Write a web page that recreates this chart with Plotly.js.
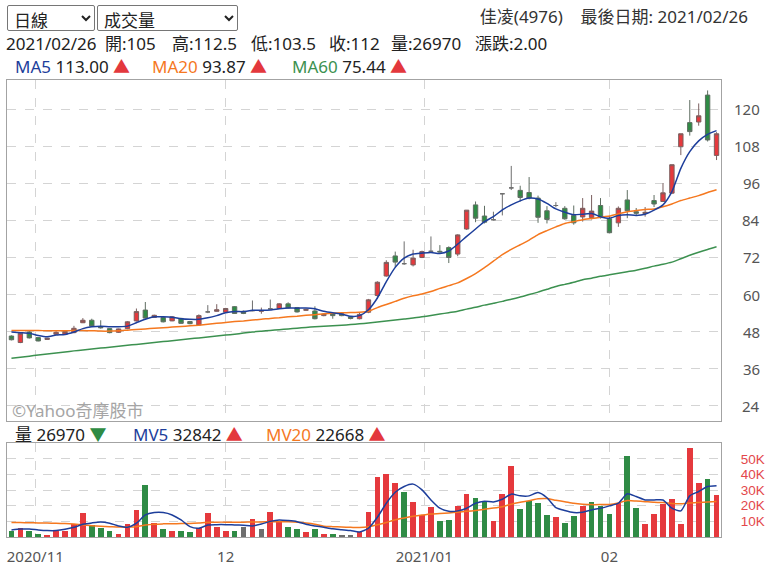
<!DOCTYPE html>
<html><head><meta charset="utf-8">
<script src="https://cdn.plot.ly/plotly-3.0.1.min.js"></script>
<style>
html,body{margin:0;padding:0;background:#fff;width:770px;height:572px;overflow:hidden;
  font-family:"Noto Sans","Noto Sans CJK TC",sans-serif;color:#222;}
#chart{position:absolute;left:0;top:0;width:770px;height:572px;}
.t{position:absolute;white-space:nowrap;line-height:22px;height:22px;z-index:5;}
select{position:absolute;z-index:6;font-family:"Noto Sans CJK TC",sans-serif;font-size:17px;color:#222;
  background:#fff;border:1px solid #767676;border-radius:2px;padding:0 2px;}
.up{color:#e3383d;} .dn{color:#2f8b43;}
</style></head><body>
<div id="chart"></div>
<select style="left:7px;top:5px;width:88px;height:26px"><option>日線</option></select>
<select style="left:97px;top:5px;width:141px;height:26px"><option>成交量</option></select>
<div id="hdr"></div>
<script>
// ---------------- data ----------------
const stockName = '佳凌(4976)';
const dates = [
 '2020/10/28','2020/10/29','2020/10/30',
 '2020/11/02','2020/11/03','2020/11/04','2020/11/05','2020/11/06','2020/11/09','2020/11/10','2020/11/11','2020/11/12','2020/11/13',
 '2020/11/16','2020/11/17','2020/11/18','2020/11/19','2020/11/20','2020/11/23','2020/11/24','2020/11/25','2020/11/26','2020/11/27','2020/11/30',
 '2020/12/01','2020/12/02','2020/12/03','2020/12/04','2020/12/07','2020/12/08','2020/12/09','2020/12/10','2020/12/11',
 '2020/12/14','2020/12/15','2020/12/16','2020/12/17','2020/12/18','2020/12/21','2020/12/22','2020/12/23','2020/12/24','2020/12/25',
 '2020/12/28','2020/12/29','2020/12/30','2020/12/31',
 '2021/01/04','2021/01/05','2021/01/06','2021/01/07','2021/01/08','2021/01/11','2021/01/12','2021/01/13','2021/01/14','2021/01/15',
 '2021/01/18','2021/01/19','2021/01/20','2021/01/21','2021/01/22','2021/01/25','2021/01/26','2021/01/27','2021/01/28','2021/01/29',
 '2021/02/01','2021/02/02','2021/02/03','2021/02/04','2021/02/05','2021/02/17','2021/02/18','2021/02/19',
 '2021/02/22','2021/02/23','2021/02/24','2021/02/25','2021/02/26'];
const open = [46.6,44.5,47.9,46.1,45.5,47.2,47.2,47.7,50.9,51.7, 49.6,49.0,47.8,49.0,51.5,55.0,52.6,52.6,51.5,52.3,
 51.3,50.2,54.4,54.6,54.3,56.1,54.6,54.8,54.6,55.4, 55.5,57.0,55.8,54.9,54.7,53.2,53.8,53.8,52.8,52.2,
 54.3,59.7,66.0,72.5,70.0,69.6,72.0,74.0,74.0,75.2, 73.1,81.2,89.0,85.4,84.2,92.6,94.5,93.7,93.0,91.2,
 87.1,88.8,87.9,85.6,85.1,84.9,88.8,84.5,83.2,90.6, 86.8,86.2,90.4,90.1,92.8,107.8,115.6,115.8,124.5,105];
const high = [46.8,47.8,48.3,46.2,46.0,48.2,48.2,49.9,52.4,52.2, 51.7,49.1,49.0,51.4,55.5,57.6,53.5,52.8,53.0,52.5,
 51.5,53.6,56.6,56.9,55.7,56.3,54.8,58.1,55.8,58.4, 57.2,57.5,56.0,55.4,56.2,53.9,53.9,54.0,53.0,54.2,
 58.6,64.3,71.1,73.9,77.2,74.5,74.2,78.8,76.0,75.6, 79.5,87.3,90.1,88.7,86.8,92.6,101.6,95.2,98.0,92.0,
 88.6,89.9,88.6,88.8,91.2,92.2,91.2,85.5,88.5,93.8, 88.0,88.3,92.2,96.0,102.0,112.0,122.9,121.8,126.0,112.5];
const low = [45.2,44.3,45.8,44.9,45.4,47.0,47.0,47.5,50.8,49.6, 49.0,47.5,47.6,48.8,51.3,52.2,52.5,51.0,51.4,50.6,
 50.4,50.0,54.0,54.5,54.2,53.8,53.7,54.6,53.8,55.2, 55.3,55.5,54.2,54.7,52.0,53.0,52.2,53.0,52.0,52.0,
 54.0,58.6,65.8,68.8,69.6,69.1,71.8,73.8,73.6,70.2, 72.4,80.9,83.4,83.0,84.0,85.6,93.8,90.1,90.8,83.2,
 83.0,88.2,84.2,82.6,83.6,84.3,84.6,79.8,81.9,84.7, 85.4,85.2,88.3,90.0,92.5,105.1,111.4,114.6,109.5,103.5];
const close = [45.4,47.5,46.0,45.0,45.9,47.8,48.1,49.1,51.7,49.8, 49.3,47.7,48.9,51.2,54.5,52.4,53.3,51.2,52.8,50.7,
 50.6,53.2,54.4,55.1,55.5,53.9,53.9,54.8,54.8,55.4, 57.0,55.7,54.4,55.2,52.2,53.7,53.2,53.2,52.3,53.6,
 58.3,64.0,70.4,70.5,70.0,71.8,73.9,74.0,73.8,72.0, 79.3,87.3,84.7,83.4,84.2,92.6,94.5,91.4,91.2,85.0,
 84.3,88.8,84.5,83.2,87.9,87.0,84.9,80.0,87.9,87.1, 86.3,86.6,89.3,92.9,102.0,112.0,112.7,117.8,110.0,112];
// day direction vs previous close: u = up, d = down, n = unchanged
const dayDir = ['d','u','d','d','u','u','u','u','u','d', 'd','d','u','u','u','d','u','d','u','d',
 'd','u','u','u','u','d','n','u','n','u', 'u','d','d','u','d','u','d','n','n','u',
 'u','u','u','u','d','u','u','u','d','d', 'u','u','d','d','u','u','u','d','d','d',
 'd','u','d','d','u','d','d','d','u','d', 'd','u','u','u','u','u','u','u','d','u'];
const volume = [4100,5800,4100,2100,1500,4100,4100,8500,15600,7500, 5600,4100,2100,8500,17300,33100,9200,4900,4100,4100,
 3000,5600,15600,6600,4100,4100,6400,11800,4900,16200, 9800,6400,4900,3000,4900,2100,2100,1300,1300,3400,
 16200,38200,40200,34800,28600,22400,14100,19000,10000,10900, 19900,27600,25000,23300,10000,27600,45500,17900,23300,21600,
 14300,12600,9200,13500,20100,22400,19900,14500,21600,51500, 18800,8300,14500,20900,24100,8300,56800,34800,37400,26970];
const ma5 = [47.9,47.7,47.5,46.8,46.4,46.9,47.1,47.9,49.0,49.6, 49.8,49.6,49.6,49.8,50.9,52.0,52.8,52.8,52.7,52.2,
 52.0,52.0,52.5,53.2,54.1,54.5,54.5,54.9,54.9,55.0, 55.4,55.7,55.6,55.7,55.4,54.6,54.1,53.7,53.0,53.2,
 55.1,58.9,64.2,68.8,71.8,73.1,73.4,73.6,73.3,74.1, 76.3,78.8,81.2,83.6,85.2,87.4,89.0,90.3,91.2,90.9,
 89.5,87.7,86.6,85.8,86.0,86.2,85.2,84.7,85.6,85.8, 85.6,86.0,87.3,89.0,93.3,100.8,106.2,109.7,111.8,113.00];
const ma20 = [48.4,48.4,48.4,48.4,48.3,48.3,48.3,48.4,48.4,48.3, 48.2,48.2,48.3,48.5,48.7,48.9,49.1,49.3,49.5,49.7,
 49.9,50.1,50.4,50.7,51.0,51.3,51.5,51.8,52.0,52.3, 52.5,52.8,53.0,53.3,53.5,53.8,54.0,54.1,54.2,54.3,
 54.6,55.8,56.8,57.8,58.8,59.6,60.2,61.0,62.0,62.9, 63.8,65.2,66.8,68.7,70.8,72.9,74.6,76.1,77.6,79.4,
 80.7,81.9,83.0,83.6,84.2,84.6,85.0,85.4,86.1,86.8, 87.2,87.5,87.7,88.4,89.3,90.4,91.2,92.0,93.0,93.87];
const ma60 = [39.4,39.75,40.1,40.45,40.8,41.1,41.45,41.8,42.1,42.4, 42.7,43.0,43.3,43.6,43.9,44.2,44.5,44.8,45.1,45.4,
 45.7,46.0,46.3,46.6,46.9,47.2,47.55,47.9,48.15,48.4, 48.65,48.9,49.15,49.4,49.6,49.75,49.95,50.1,50.3,50.55,
 50.8,51.1,51.45,51.8,52.1,52.4,52.8,53.25,53.7,54.15, 54.6,55.3,55.9,56.6,57.2,57.8,58.5,59.2,60.0,60.8,
 61.7,62.6,63.3,64.0,64.8,65.3,65.9,66.4,66.9,67.4, 67.9,68.5,69.2,69.8,70.5,71.6,72.7,73.7,74.6,75.44];
const mv5 = [4500,5100,5100,4500,4100,4100,4900,6200,8100,9000, 9600,8800,7100,6200,8800,14100,15600,15600,14100,10900,
 6600,5600,7700,7900,7900,7700,7500,7100,8300,10000, 10900,10500,9800,8100,7100,6200,5300,4700,4100,3200,
 5600,12600,21600,28600,32300,33800,30100,23700,18400,16500, 16700,18400,21600,22900,22400,24100,27400,26300,26300,28400,
 25100,18800,16900,15600,15800,17300,18400,19900,21600,27600, 25900,23700,23700,23700,18400,16700,26300,29100,32300,32842];
const mv20 = [9200,9200,9100,9000,8900,8800,8600,8300,7800,7200, 6800,6600,6400,6400,6600,7600,8200,8400,8500,8600,
 8700,9000,9400,9500,9500,9400,9500,9600,9600,9800, 9800,9700,9500,9000,8200,6900,6600,6400,6200,6000,
 6500,7800,9300,11000,12200,13200,14000,14700,15000,15400, 15900,16400,17000,17800,18500,19400,21000,22200,23200,24400,
 24600,23500,22600,21600,21000,20700,20700,20800,21800,23300, 23000,22600,22200,22000,21400,21200,21800,22100,22400,22668];
const monthStarts = ['2020/11/01','2020/12/01','2021/01/01','2021/02/01'];
const monthLabels = ['2020/11','12','2021/01','02'];
const priceTicks = [24,36,48,60,72,84,96,108,120];
const volTicks = [10000,20000,30000,40000,50000];
const volTickText = ['10K','20K','30K','40K','50K'];

// ---------------- styles ----------------
const RED = '#e5393d', GREEN = '#2f8b45', GRAY = '#6e6e6e';
const C_MA5 = '#1d3e9b', C_MA20 = '#f5781f', C_MA60 = '#3c9150';

// ---------------- helpers ----------------
const N = dates.length;
const idx = dates.map((d, i) => i);
const toT = s => { const [y, m, d] = s.split('/').map(Number); return Date.UTC(y, m - 1, d); };
const dT = dates.map(toT);
// position of a calendar date on the trading-day index axis
function posOf(s) {
  const t = toT(s);
  for (let i = 0; i < N; i++) {
    if (dT[i] === t) return i;
    if (dT[i] > t) return i === 0 ? 0 : (i - 1) + (t - dT[i - 1]) / (dT[i] - dT[i - 1]);
  }
  return N - 1;
}
const monthPos = monthStarts.map(posOf);
const pick = (arr, ids) => ids.map(i => arr[i]);
const ndIdx = idx.filter(i => open[i] !== close[i]);
const djIdx = idx.filter(i => open[i] === close[i]);

// ---------------- header texts ----------------
const L = N - 1;
const fmt = (v, d) => Number(v).toFixed(d);
const arrow = (a) => a[L] >= a[L - 1] ? '<span class="up">▲</span>' : '<span class="dn">▼</span>';
const hdr = document.getElementById('hdr');
function put(left, cy, html, size, extra) {
  const el = document.createElement('div');
  el.className = 't';
  el.style.left = left + 'px';
  el.style.top = (cy - 11) + 'px';
  el.style.fontSize = size + 'px';
  if (extra) Object.assign(el.style, extra);
  el.innerHTML = html;
  hdr.appendChild(el);
  return el;
}
put(0, 17, stockName + '&nbsp;&nbsp;&nbsp; 最後日期: ' + dates[L], 17, {left: 'auto', right: '22px', color: '#333'});
const chg = close[L] - close[L - 1];
const line2 = [[6, dates[L]], [105, '開:' + open[L]], [172, '高:' + high[L]], [251, '低:' + low[L]],
  [329, '收:' + close[L]], [391, '量:' + volume[L]], [475, '漲跌:' + fmt(chg, 2)]];
line2.forEach(([x, s]) => put(x, 44, s, 17));
const maItems = [[15, 'MA5', C_MA5, ma5], [152, 'MA20', C_MA20, ma20], [292, 'MA60', C_MA60, ma60]];
maItems.forEach(([x, lab, col, arr]) =>
  put(x, 67, '<span style="color:' + col + '">' + lab + '</span> ' + fmt(arr[L], 2) + ' ' + arrow(arr), 17));
const volItems = [[15, '量', '#222', volume], [133, 'MV5', C_MA5, mv5], [266, 'MV20', C_MA20, mv20]];
volItems.forEach(([x, lab, col, arr]) =>
  put(x, 435, '<span style="color:' + col + '">' + lab + '</span> ' + Math.round(arr[L]) + ' ' + arrow(arr), 17));
put(12, 411, '©Yahoo奇摩股市', 17, {color: '#a5a5a5'});

// ---------------- plot ----------------
const candleBase = {type: 'candlestick', xaxis: 'x2', yaxis: 'y2', whiskerwidth: 0, hoverinfo: 'skip'};
const traces = [
  Object.assign({}, candleBase, {
    x: ndIdx, open: pick(open, ndIdx), high: pick(high, ndIdx), low: pick(low, ndIdx), close: pick(close, ndIdx),
    increasing: {fillcolor: RED, line: {color: '#7a5f5f', width: 1}},
    decreasing: {fillcolor: GREEN, line: {color: '#5f6e62', width: 1}}
  }),
  Object.assign({}, candleBase, {
    x: djIdx, open: pick(open, djIdx), high: pick(high, djIdx), low: pick(low, djIdx), close: pick(close, djIdx),
    increasing: {fillcolor: GRAY, line: {color: GRAY, width: 1}},
    decreasing: {fillcolor: GRAY, line: {color: GRAY, width: 1}}
  }),
  {type: 'scatter', mode: 'lines', xaxis: 'x2', yaxis: 'y2', x: idx, y: ma60, line: {color: C_MA60, width: 1.5, shape: 'spline', smoothing: 0.6}, hoverinfo: 'skip'},
  {type: 'scatter', mode: 'lines', xaxis: 'x2', yaxis: 'y2', x: idx, y: ma20, line: {color: C_MA20, width: 1.5, shape: 'spline', smoothing: 0.6}, hoverinfo: 'skip'},
  {type: 'scatter', mode: 'lines', xaxis: 'x2', yaxis: 'y2', x: idx, y: ma5, line: {color: C_MA5, width: 1.5, shape: 'spline', smoothing: 0.6}, hoverinfo: 'skip'},
  {type: 'bar', xaxis: 'x', yaxis: 'y', x: idx, y: volume, width: 0.64,
   marker: {color: dayDir.map(d => d === 'u' ? RED : d === 'd' ? GREEN : GRAY), line: {width: 0}}, hoverinfo: 'skip'},
  {type: 'scatter', mode: 'lines', xaxis: 'x', yaxis: 'y', x: idx, y: mv20, line: {color: C_MA20, width: 1.5, shape: 'spline', smoothing: 0.6}, hoverinfo: 'skip'},
  {type: 'scatter', mode: 'lines', xaxis: 'x', yaxis: 'y', x: idx, y: mv5, line: {color: C_MA5, width: 1.5, shape: 'spline', smoothing: 0.6}, hoverinfo: 'skip'}
];

const GRID = '#d4d4d4', BORDER = '#a3a3a3';
const plotTop = 80, plotBot = 537, H = plotBot - plotTop;
const xCommon = {range: [-0.5, N - 0.5], tickmode: 'array', tickvals: monthPos, ticktext: monthLabels,
  showgrid: true, gridcolor: GRID, griddash: 'dash', gridwidth: 1, ticks: '', zeroline: false,
  showline: true, mirror: true, linecolor: BORDER, linewidth: 1, fixedrange: true};
const layout = {
  width: 770, height: 572, margin: {l: 7, r: 49, t: plotTop, b: 572 - plotBot, pad: 0},
  paper_bgcolor: 'rgba(0,0,0,0)', plot_bgcolor: '#fff', showlegend: false, bargap: 0,
  font: {family: 'Noto Sans, Noto Sans CJK TC, sans-serif', color: '#555'},
  xaxis: Object.assign({}, xCommon, {anchor: 'y', tickfont: {size: 15, color: '#555'}, ticklabelstandoff: 6}),
  xaxis2: Object.assign({}, xCommon, {anchor: 'y2', showticklabels: false, rangeslider: {visible: false}}),
  yaxis: {domain: [0, (537 - 443) / H], range: [0, 60100], side: 'right', tickmode: 'array', tickvals: volTicks, ticktext: volTickText,
    tickfont: {family: 'Liberation Sans, Arial, sans-serif', size: 13.5, color: '#e3474b'}, ticks: '', ticklabelstandoff: 16,
    showgrid: true, gridcolor: GRID, griddash: 'dash', zeroline: false, showline: true, mirror: true, linecolor: BORDER, fixedrange: true},
  yaxis2: {domain: [(537 - 421) / H, 1], range: [19.13, 129.38], side: 'right', tickmode: 'array', tickvals: priceTicks,
    showticklabels: false, ticks: '', showgrid: true, gridcolor: GRID, griddash: 'dash', zeroline: false,
    showline: true, mirror: true, linecolor: BORDER, fixedrange: true},
  annotations: priceTicks.map(v => ({xref: 'paper', yref: 'y2', x: 1, y: v, xanchor: 'right', yanchor: 'middle', xshift: 41,
    text: String(v), showarrow: false, font: {size: 15, color: '#555'}}))
};
Plotly.newPlot('chart', traces, layout, {staticPlot: true, displayModeBar: false});
</script>
</body></html>
